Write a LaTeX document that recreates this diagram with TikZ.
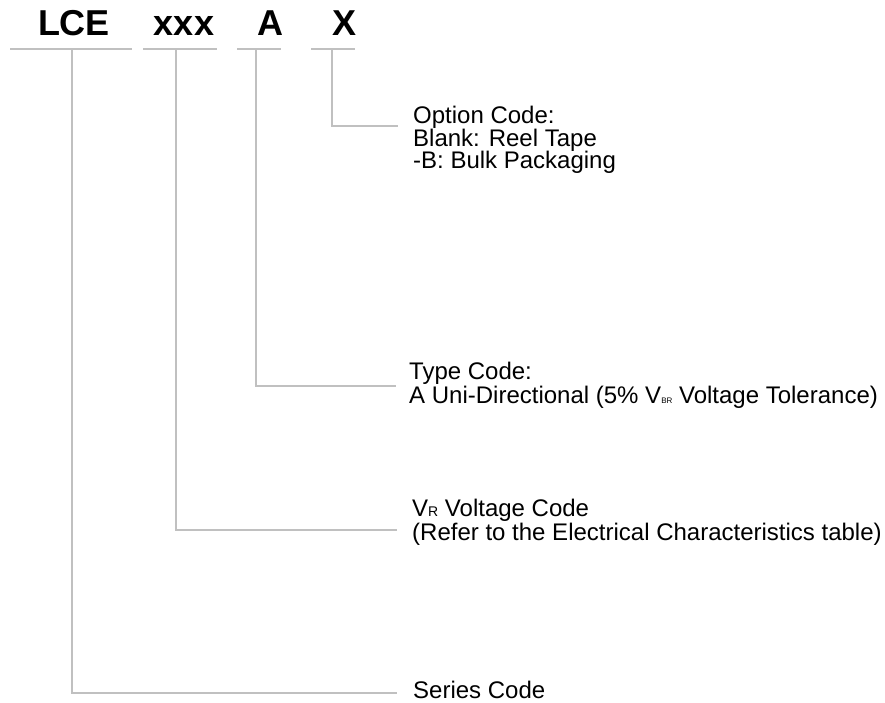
\documentclass[tikz,border=0pt]{standalone}
\usepackage{fontspec}
\setmainfont{Liberation Sans}
\usepackage{tikz}
\definecolor{leadgray}{RGB}{192,192,192}

\begin{document}
\begin{tikzpicture}[x=1pt, y=-1pt,
    lead/.style={draw=leadgray, line width=1.6pt},
    code/.style={anchor=base, inner sep=0pt, font=\fontsize{36}{40}\selectfont\bfseries},
    desc/.style={anchor=base west, inner sep=0pt, font=\fontsize{24}{25}\selectfont}]
    \useasboundingbox (0,0) rectangle (885,703);

    % part number letters
    \node[code] (lce) at (74,36) {LCE};
    \node[code] (volt) at (184,36) {xxx};
    \node[code] (type) at (270,36) {A};
    \node[code] (opt) at (345,36) {X};

    % underlines
    \coordinate (lceL) at (10,49);  \coordinate (lceR) at (132,49);  \coordinate (lceM) at (72,49);
    \coordinate (voltL) at (143,49); \coordinate (voltR) at (217,49); \coordinate (voltM) at (176,49);
    \coordinate (typeL) at (237,49); \coordinate (typeR) at (281,49); \coordinate (typeM) at (256,49);
    \coordinate (optL) at (311,49);  \coordinate (optR) at (355,49);  \coordinate (optM) at (332,49);

    \draw[lead] (lceL) -- (lceR);
    \draw[lead] (voltL) -- (voltR);
    \draw[lead] (typeL) -- (typeR);
    \draw[lead] (optL) -- (optR);

    % descriptions
    \node[desc] (opt1) at (413,123.5) {Option Code:};
    \node[desc] (opt2) at (413,146.5) {Blank: Reel Tape};
    \node[desc] (opt3) at (413,168.5) {-B: Bulk Packaging};

    \node[desc] (type1) at (409,379.5) {Type Code:};
    \node[desc] (type2) at (409,403.5) {A Uni-Directional (5\% V{\fontsize{8}{8}\selectfont BR} Voltage Tolerance)};

    \node[desc] (volt1) at (412,516.7) {V{\fontsize{14}{14}\selectfont R} Voltage Code};
    \node[desc] (volt2) at (412,540.7) {(Refer to the Electrical Characteristics table)};

    \node[desc] (ser1) at (413,698) {Series Code};

    % leader ends
    \coordinate (optEnd) at (398,126);
    \coordinate (typeEnd) at (396,386);
    \coordinate (voltEnd) at (397,530);
    \coordinate (serEnd) at (397,693);

    \draw[lead] (optM) |- (optEnd);
    \draw[lead] (typeM) |- (typeEnd);
    \draw[lead] (voltM) |- (voltEnd);
    \draw[lead] (lceM) |- (serEnd);
\end{tikzpicture}
\end{document}
